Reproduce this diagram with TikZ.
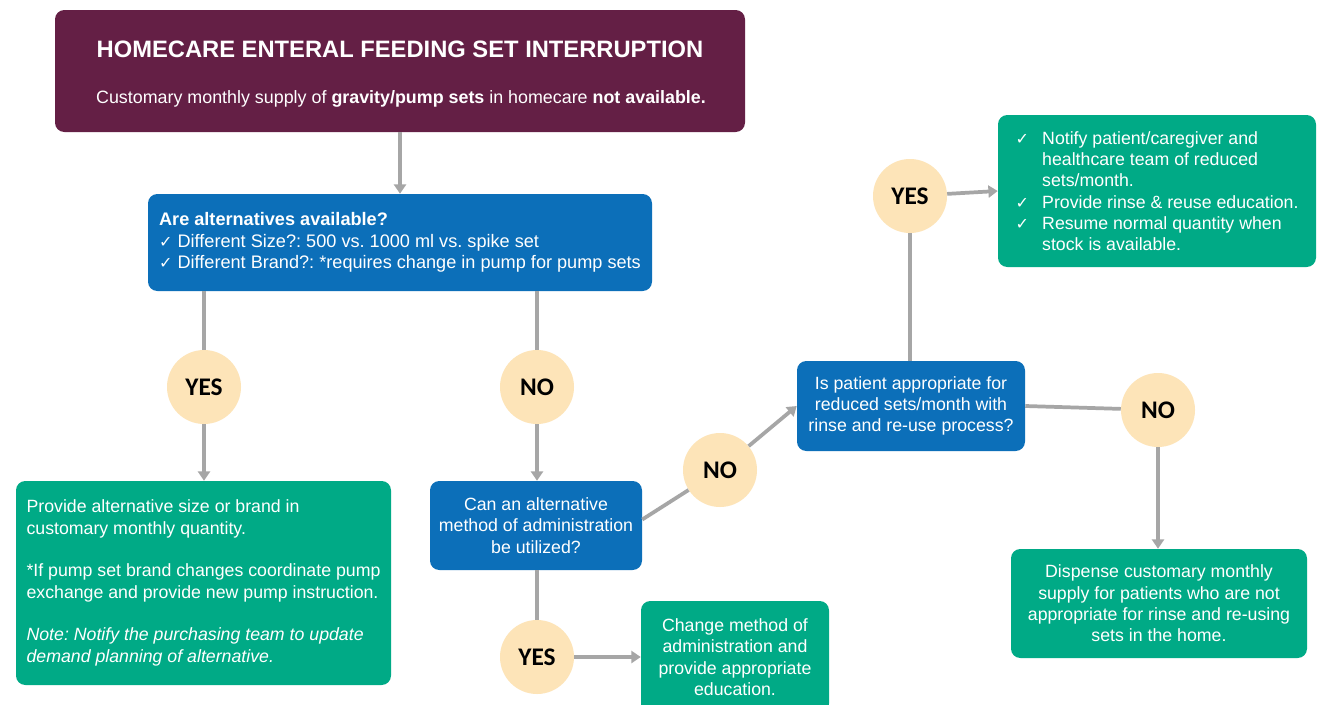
\documentclass[tikz,border=0pt]{standalone}
\usepackage{fontspec}
\setmainfont{Liberation Sans}
\newfontfamily\circfont{Carlito}
\newfontfamily\symfont{DejaVu Sans}
\usetikzlibrary{arrows.meta}
\definecolor{maroon}{HTML}{641F45}
\definecolor{qblue}{HTML}{0C6FB9}
\definecolor{qgreen}{HTML}{00AA86}
\definecolor{peach}{HTML}{FDE4B8}
\definecolor{lgray}{HTML}{A6A6A6}
\newcommand{\ck}{\makebox[20pt][l]{\symfont\fontsize{12pt}{12pt}\selectfont ✓}}
\newcommand{\sck}{{\symfont\fontsize{12pt}{12pt}\selectfont ✓}}
\frenchspacing
\begin{document}
\begin{tikzpicture}[x=0.75pt,y=-0.75pt,
  box/.style={rounded corners=7pt, text=white, inner sep=0pt, font=\fontsize{13.3pt}{16pt}\selectfont},
  qbox/.style={box, fill=qblue},
  gbox/.style={box, fill=qgreen},
  circ/.style={circle, fill=peach, minimum size=55.5pt, inner sep=0pt, font=\circfont\bfseries\fontsize{19pt}{22pt}\selectfont},
  conn/.style={draw=lgray, line width=2.8pt},
  arr/.style={conn, -{Triangle[width=9pt,length=7pt]}},
  ttext/.style={text=white, inner sep=0pt, anchor=base}
]
\useasboundingbox (0,0) rectangle (1317,704);
\fill[white] (0,0) rectangle (1317,704);

% title
\node[box, fill=maroon, minimum width=517.5pt, minimum height=91.5pt] (title) at (400,71) {};
\node[ttext, font=\bfseries\fontsize{17.8pt}{20pt}\selectfont] (ttl) at (400,57)
  {HOMECARE ENTERAL FEEDING SET INTERRUPTION};
\node[ttext, font=\fontsize{13.4pt}{15pt}\selectfont] (sub) at (401,103)
  {Customary monthly supply of \textbf{gravity/pump sets} in homecare \textbf{not available.}};

% blue box 1
\node[qbox, minimum width=378pt, minimum height=72.75pt, align=left, font=\fontsize{13.6pt}{16.3pt}\selectfont] (b1) at (400,242.5)
  {{\bfseries Are alternatives available?}\\
   \sck\ Different Size?: 500 vs. 1000 ml vs. spike set\\
   \sck\ Different Brand?: *requires change in pump for pump sets};

% green box 1
\node[gbox, minimum width=281.25pt, minimum height=153pt, align=left] (g1) at (203.5,583)
  {Provide alternative size or brand in\\
   customary monthly quantity.\\[16pt]
   *If pump set brand changes coordinate pump\\
   exchange and provide new pump instruction.\\[16pt]
   \textit{Note: Notify the purchasing team to update}\\
   \textit{demand planning of alternative.}};

% blue box 2
\node[qbox, minimum width=159pt, minimum height=66.75pt, align=center] (b2) at (536,525.5)
  {Can an alternative\\ method of administration\\ be utilized?};

% green box 3
\node[gbox, minimum width=141pt, minimum height=84pt, align=center] (g3) at (735,657)
  {Change method of\\ administration and\\ provide appropriate\\ education.};

% blue box 3
\node[qbox, minimum width=171pt, minimum height=67.5pt, align=center] (b3) at (911,406)
  {Is patient appropriate for\\ reduced sets/month with\\ rinse and re-use process?};

% green box 4
\node[gbox, minimum width=238.5pt, minimum height=114pt, align=left] (g4) at (1157,191)
  {\ck Notify patient/caregiver and\\
   \hspace*{20pt}healthcare team of reduced\\
   \hspace*{20pt}sets/month.\\
   \ck Provide rinse \& reuse education.\\
   \ck Resume normal quantity when\\
   \hspace*{20pt}stock is available.};

% green box 5
\node[gbox, minimum width=222pt, minimum height=81.75pt, align=center] (g5) at (1159,603.5)
  {Dispense customary monthly\\ supply for patients who are not\\ appropriate for rinse and re-using\\ sets in the home.};

% circles
\node[circ] (yes1) at (204,387) {YES};
\node[circ] (no1) at (537,387) {NO};
\node[circ] (no2) at (720,470) {NO};
\node[circ] (yes2) at (537,657) {YES};
\node[circ] (yes3) at (910,196) {YES};
\node[circ] (no3) at (1158,410) {NO};

% connectors
\draw[arr] (title.south) -- (b1.north);
\draw[conn] (b1.south -| yes1) -- (yes1);
\draw[arr] (yes1.south) -- (yes1.south |- g1.north);
\draw[conn] (b1.south -| no1) -- (no1);
\draw[arr] (no1.south) -- (no1.south |- b2.north);
\draw[conn] (b2.south -| yes2) -- (yes2);
\draw[arr] (yes2.east) -- (yes2.east -| g3.west);
\draw[conn] (b2.east) ++(0,-6) -- (no2);
\draw[arr] (no2) -- (b3.west);
\draw[conn] (b3.north -| yes3) -- (yes3);
\draw[arr] (yes3) -- (g4.west);
\draw[conn] (b3.east) -- (no3);
\draw[arr] (no3.south) -- (no3.south |- g5.north);
\end{tikzpicture}
\end{document}
